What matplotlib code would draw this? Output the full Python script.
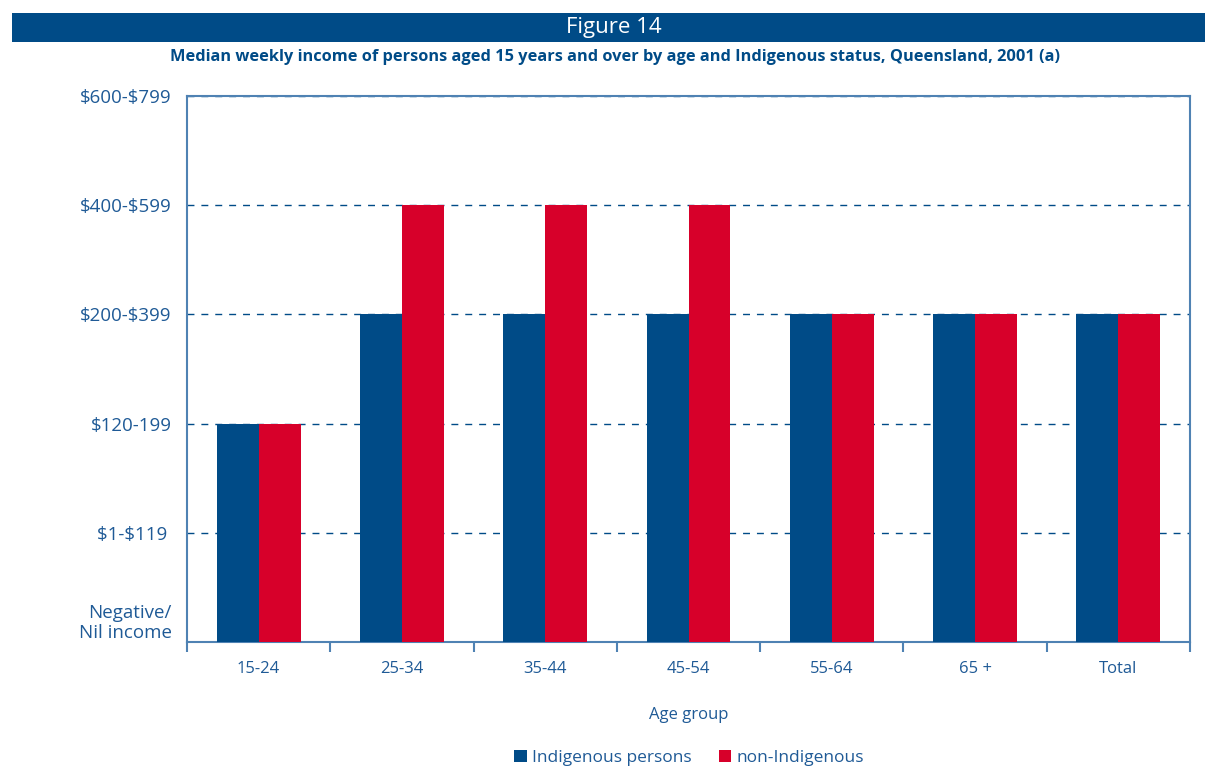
import matplotlib
matplotlib.use("Agg")
import matplotlib.pyplot as plt
from matplotlib.patches import Rectangle
import numpy as np

categories = ["15-24", "25-34", "35-44", "45-54", "55-64", "65 +", "Total"]
indigenous = [2, 3, 3, 3, 3, 3, 3]
non_indigenous = [2, 4, 4, 4, 3, 3, 3]
y_labels = ["Negative/\nNil income", r"\$1-\$119 ", r"\$120-199", r"\$200-\$399", r"\$400-\$599", r"\$600-\$799"]

BLUE = "#004b87"
RED = "#d7002a"
TXT = "#1f5a96"
SPINE = "#4f82b3"

plt.rcParams['font.family'] = ['Open Sans', 'DejaVu Sans']

fig = plt.figure(figsize=(12.05, 7.69), dpi=100)
fig.patches.append(Rectangle((12/1205, 1-42/769), 1-12/1205, 29/769,
                             transform=fig.transFigure, facecolor=BLUE, edgecolor='none'))
fig.text(614/1205, 1-27.5/769, "Figure 14", color='white', fontsize=16, ha='center', va='center')
fig.text(615/1205, 1-57/769,
         "Median weekly income of persons aged 15 years and over by age and Indigenous status, Queensland, 2001 (a)",
         color=BLUE, fontsize=11.8, fontweight='bold', ha='center', va='center')

ax = fig.add_axes([187/1205, 1-642/769, (1190-187)/1205, (642-96)/769])
x = np.arange(len(categories))
w = 0.293
ax.bar(x - w/2, indigenous, width=w, color=BLUE, label="Indigenous persons", zorder=3)
ax.bar(x + w/2, non_indigenous, width=w, color=RED, label="non-Indigenous", zorder=3)

ax.set_xlim(-0.5, len(categories) - 0.5)
ax.set_ylim(0, 5)
for lvl in range(1, 6):
    ax.axhline(lvl, color=BLUE, linestyle=(0, (5, 5)), linewidth=1, zorder=1)

ax.set_yticks(range(6))
ax.set_yticklabels(y_labels, fontsize=13.5, color=TXT)
ax.tick_params(axis='y', length=0, pad=11)
labs = ax.get_yticklabels()
labs[0].set_va('bottom')
labs[0].set_linespacing(1.15)

ax.set_xticks(x)
ax.set_xticklabels(categories, fontsize=12, color=TXT)
ax.tick_params(axis='x', which='major', length=0, pad=14)
ax.set_xticks(np.arange(-0.5, len(categories)), minor=True)
ax.tick_params(axis='x', which='minor', length=7, width=1.5, color=SPINE, direction='out')

for s in ['left', 'right', 'bottom', 'top']:
    ax.spines[s].set_color(SPINE)
    ax.spines[s].set_linewidth(1.5)

ax.set_xlabel("Age group", fontsize=12, color=TXT, labelpad=21)

leg = fig.legend(loc='center', bbox_to_anchor=(0.572, 1-758/769), ncol=2, frameon=False,
                 fontsize=12.5, handlelength=0.7, handleheight=0.7, handletextpad=0.3,
                 columnspacing=1.6, labelcolor=TXT)

fig.savefig("out.png", dpi=100)
